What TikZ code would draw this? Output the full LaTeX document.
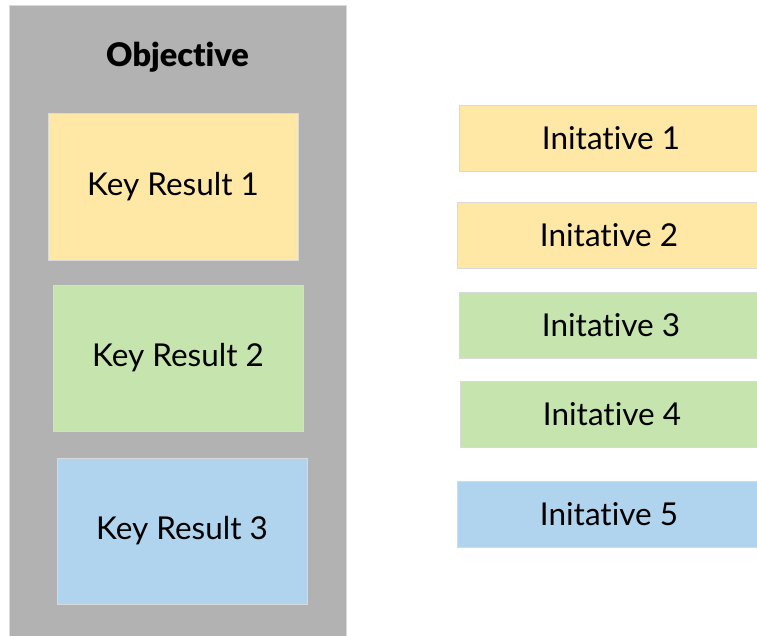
\documentclass[tikz,border=0pt]{standalone}
\usepackage{fontspec}
\setmainfont{Lato}[Ligatures=NoCommon]
\newfontfamily\heavyfont{Lato Black}[Ligatures=NoCommon]
\definecolor{objgray}{HTML}{B2B2B2}
\definecolor{kyellow}{HTML}{FFE8A6}
\definecolor{kgreen}{HTML}{C6E5AE}
\definecolor{kblue}{HTML}{B0D4EE}
\definecolor{edgegray}{HTML}{D9D9D9}
\begin{document}
\begin{tikzpicture}[x=1pt,y=-1pt,
  objbox/.style={fill=objgray,draw=edgegray,line width=0.8pt},
  cardbox/.style={draw=edgegray,line width=0.8pt},
  txt/.style={font=\fontsize{31.5}{36}\selectfont}]
\useasboundingbox (0,0) rectangle (757,635);
\fill[white] (0,0) rectangle (757,635);
\draw[objbox] (9,5) rectangle (346,640);
\node[font=\heavyfont\fontsize{32.5}{38}\selectfont] (obj) at (177.5,57) {Objective};
\path[cardbox,fill=kyellow] (48,113) rectangle (298,260);
\node[txt] (kr1) at (173,186.5) {Key Result 1};
\path[cardbox,fill=kgreen] (53,285) rectangle (303,431);
\node[txt] (kr2) at (178,358) {Key Result 2};
\path[cardbox,fill=kblue] (57,458) rectangle (307,604);
\node[txt] (kr3) at (182,531) {Key Result 3};
\path[cardbox,fill=kyellow] (459,105) rectangle (760,171);
\node[txt] (i1) at (611,138) {Initative 1};
\path[cardbox,fill=kyellow] (457,202) rectangle (760,268);
\node[txt] (i2) at (609,235) {Initative 2};
\path[cardbox,fill=kgreen] (459,292) rectangle (760,358);
\node[txt] (i3) at (611,325) {Initative 3};
\path[cardbox,fill=kgreen] (460,381) rectangle (760,447);
\node[txt] (i4) at (612,414) {Initative 4};
\path[cardbox,fill=kblue] (457,481) rectangle (760,547);
\node[txt] (i5) at (609,514) {Initative 5};
\end{tikzpicture}
\end{document}
